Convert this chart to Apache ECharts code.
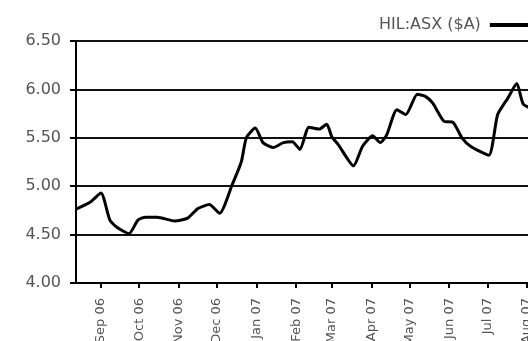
<!DOCTYPE html>
<html>
<head>
<meta charset="utf-8">
<script src="https://cdn.jsdelivr.net/npm/echarts@6/dist/echarts.min.js"></script>
<style>
  html, body { margin: 0; padding: 0; background: #fff; }
  #chart { width: 528px; height: 341px; }
</style>
</head>
<body>
<div id="chart"></div>
<script>
// HIL:ASX closing price, roughly weekly, Aug 2006 – Aug 2007
const dates = [
  '2006-08-12', '2006-08-24', '2006-09-01', '2006-09-08', '2006-09-14', '2006-09-23',
  '2006-09-30', '2006-10-06', '2006-10-15', '2006-10-29', '2006-11-08', '2006-11-16',
  '2006-11-25', '2006-12-03', '2006-12-13', '2006-12-20', '2006-12-24', '2006-12-31',
  '2007-01-06', '2007-01-14', '2007-01-22', '2007-01-29', '2007-02-04', '2007-02-11',
  '2007-02-19', '2007-02-25', '2007-03-01', '2007-03-06', '2007-03-18', '2007-03-25',
  '2007-04-02', '2007-04-08', '2007-04-13', '2007-04-21', '2007-04-28', '2007-05-07',
  '2007-05-13', '2007-05-19', '2007-05-28', '2007-06-04', '2007-06-11', '2007-06-18',
  '2007-07-02', '2007-07-09', '2007-07-17', '2007-07-24', '2007-07-29', '2007-08-05'
];
const prices = [
  4.76, 4.84, 4.93, 4.65, 4.57, 4.51,
  4.65, 4.68, 4.68, 4.64, 4.67, 4.77,
  4.81, 4.72, 5.02, 5.25, 5.50, 5.60,
  5.45, 5.40, 5.45, 5.46, 5.38, 5.61,
  5.59, 5.64, 5.51, 5.43, 5.21, 5.41,
  5.52, 5.45, 5.53, 5.79, 5.74, 5.95,
  5.93, 5.86, 5.67, 5.66, 5.50, 5.41,
  5.32, 5.74, 5.91, 6.06, 5.85, 5.80
];
// Month-start ticks on the date axis
const monthTicks = [
  '2006-09-01', '2006-10-01', '2006-11-01', '2006-12-01', '2007-01-01', '2007-02-01',
  '2007-03-01', '2007-04-01', '2007-05-01', '2007-06-01', '2007-07-01', '2007-08-01'
];
const monthNames = ['Jan', 'Feb', 'Mar', 'Apr', 'May', 'Jun', 'Jul', 'Aug', 'Sep', 'Oct', 'Nov', 'Dec'];
const seriesName = 'HIL:ASX ($A)';

const HOUR = 3600 * 1000;
const ts = s => new Date(s).getTime();
const tickValues = monthTicks.map(ts);
const lineData = dates.map((d, i) => [ts(d), prices[i]]);

const labelFont = 'DejaVu Sans';
const chart = echarts.init(document.getElementById('chart'), null, { renderer: 'canvas' });

chart.setOption({
  animation: false,
  backgroundColor: '#fff',
  // fixed plot rectangle; month labels may run off the bottom edge
  grid: { left: 76, right: 0, top: 41, bottom: 58, outerBoundsMode: 'none', containLabel: false },
  legend: {
    data: [seriesName],
    left: 379,
    top: 17,
    padding: 0,
    align: 'right',
    icon: 'rect',
    itemWidth: 46,
    itemHeight: 4,
    itemStyle: { color: '#000' },
    textStyle: { color: '#555', fontFamily: labelFont, fontSize: 16, lineHeight: 16, padding: [0, 4, 0, 0] }
  },
  xAxis: {
    // dates as millisecond timestamps on a linear scale
    type: 'value',
    min: ts('2006-08-12') + 10 * HOUR,
    max: ts('2007-08-01') + 19 * HOUR,
    axisLine: { show: true, lineStyle: { color: '#000', width: 2 } },
    axisTick: { show: true, length: 5, lineStyle: { color: '#000', width: 2 }, customValues: tickValues },
    axisLabel: {
      customValues: tickValues,
      rotate: 90,
      margin: 15,
      color: '#555',
      fontFamily: labelFont,
      fontSize: 13,
      formatter: v => {
        const d = new Date(v);
        return monthNames[d.getUTCMonth()] + ' ' + String(d.getUTCFullYear()).slice(2);
      }
    },
    splitLine: { show: false }
  },
  yAxis: {
    type: 'value',
    min: 4,
    max: 6.5,
    interval: 0.5,
    axisLine: { show: true, lineStyle: { color: '#000', width: 2 } },
    axisTick: { show: true, length: 6, lineStyle: { color: '#000', width: 2 } },
    axisLabel: {
      margin: 15,
      color: '#555',
      fontFamily: labelFont,
      fontSize: 16,
      formatter: v => v.toFixed(2)
    },
    splitLine: { show: true, lineStyle: { color: '#111', width: 2 } }
  },
  series: [{
    name: seriesName,
    type: 'line',
    data: lineData,
    symbol: 'none',
    smooth: 0.2,
    clip: true,
    lineStyle: { color: '#000', width: 3 },
    itemStyle: { color: '#000' }
  }]
});
</script>
</body>
</html>
